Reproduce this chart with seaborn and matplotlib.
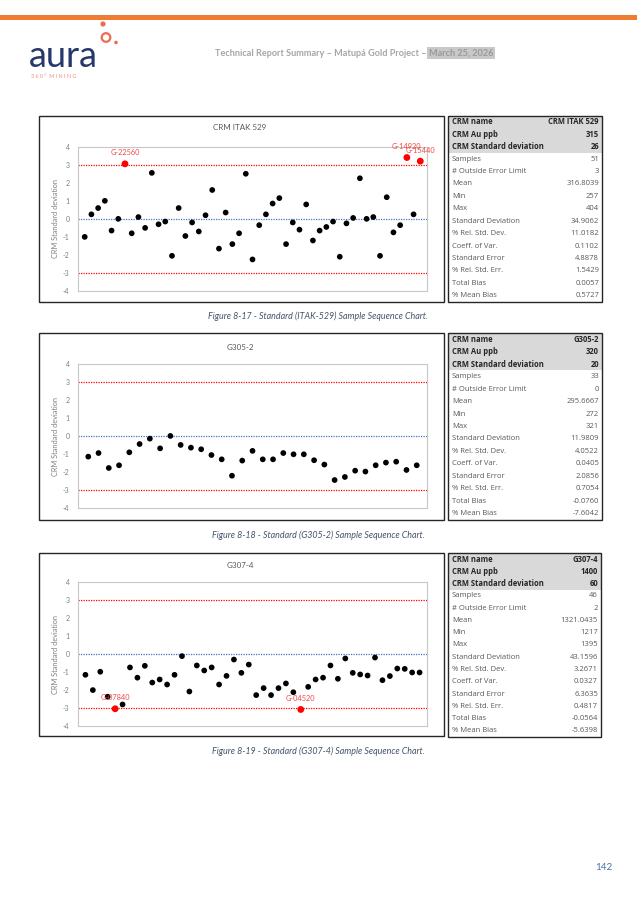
import numpy as np
import pandas as pd
import matplotlib
matplotlib.use("Agg")
import matplotlib.pyplot as plt
from matplotlib.patches import Rectangle, Circle
import seaborn as sns

sns.set_theme(style="white")
plt.rcParams["font.family"] = ["Lato", "DejaVu Sans"]
plt.rcParams["axes.unicode_minus"] = False

# --------------------------------------
# DATA (z-scores)
# --------------------------------------
itak_z = [-1.0, 0.25, 0.6, 1.0, -0.65, 0.0, 3.05, -0.8, 0.1, -0.5,
          2.55, -0.3, -0.15, -2.05, 0.6, -0.95, -0.2, -0.7, 0.2, 1.6,
          -1.65, 0.35, -1.4, -0.8, 2.5, -2.25, -0.35, 0.25, 0.85, 1.15,
          -1.4, -0.2, -0.6, 0.8, -1.2, -0.65, -0.45, -0.15, -2.1, -0.25,
          0.05, 2.25, 0.0, 0.1, -2.05, 1.2, -0.75, -0.35, 3.4, 0.25, 3.2]
itak_ids = ["G-22560", "G-14920", "G-15440"]

g305_z = [-1.13, -0.93, -1.76, -1.61, -0.89, -0.43, -0.13, -0.67, 0.02, -0.48,
          -0.63, -0.72, -1.04, -1.28, -2.19, -1.35, -0.81, -1.28, -1.28, -0.93,
          -1.0, -1.0, -1.33, -1.57, -2.43, -2.26, -1.91, -1.96, -1.61, -1.46,
          -1.41, -1.87, -1.61]
g305_ids = []

g307_z = [-1.15, -2.0, -0.98, -2.37, -3.04, -2.8, -0.74, -1.31, -0.65, -1.58,
          -1.41, -1.69, -1.15, -0.11, -2.08, -0.63, -0.91, -0.74, -1.69, -1.21,
          -0.3, -1.04, -0.58, -2.28, -1.89, -2.28, -1.89, -1.63, -2.12, -3.08,
          -1.82, -1.41, -1.31, -0.63, -1.37, -0.24, -1.04, -1.13, -1.19, -0.19,
          -1.45, -1.22, -0.8, -0.82, -1.02, -1.02]
g307_ids = ["G-07840", "G-04520"]

stat_names = ["CRM name", "CRM Au ppb", "CRM Standard deviation", "Samples",
              "# Outside Error Limit", "Mean", "Min", "Max", "Standard Deviation",
              "% Rel. Std. Dev.", "Coeff. of Var.", "Standard Error",
              "% Rel. Std. Err.", "Total Bias", "% Mean Bias"]
itak_stats = ["CRM ITAK 529", "315", "26", "51", "3", "316.8039", "257", "404",
              "34.9062", "11.0182", "0.1102", "4.8878", "1.5429", "0.0057", "0.5727"]
g305_stats = ["G305-2", "320", "20", "33", "0", "295.6667", "272", "321",
              "11.9809", "4.0522", "0.0405", "2.0856", "0.7054", "-0.0760", "-7.6042"]
g307_stats = ["G307-4", "1400", "60", "46", "2", "1321.0435", "1217", "1395",
              "43.1596", "3.2671", "0.0327", "6.3635", "0.4817", "-0.0564", "-5.6398"]

titles = ["CRM ITAK 529", "G305-2", "G307-4"]
captions = ["Figure 8-17 - Standard (ITAK-529) Sample Sequence Chart.",
            "Figure 8-18 - Standard (G305-2) Sample Sequence Chart.",
            "Figure 8-19 - Standard (G307-4) Sample Sequence Chart."]

# --------------------------------------
# PAGE LAYOUT (pixels, origin top-left)
# --------------------------------------
W, H = 637, 900
fig = plt.figure(figsize=(W / 100, H / 100), dpi=100)
fig.patch.set_facecolor("white")

bg = fig.add_axes([0, 0, 1, 1])
bg.set_xlim(0, W)
bg.set_ylim(H, 0)
bg.axis("off")


def px_axes(x0, y0, x1, y1):
    return fig.add_axes([x0 / W, 1 - y1 / H, (x1 - x0) / W, (y1 - y0) / H])


# header
bg.add_patch(Rectangle((0, 15), W, 5, fc="#ED7D31", ec="none"))
bg.text(29, 67, "aura", fontsize=26, fontweight="normal", color="#26386B", va="baseline")
coral = "#EE6A50"
bg.add_patch(Circle((103, 24), 2.6, fc=coral, ec="none"))
bg.add_patch(Circle((106, 37.5), 4.3, fc="none", ec=coral, lw=1.6))
bg.add_patch(Circle((116, 42.5), 1.8, fc=coral, ec="none"))
bg.text(31, 77, "3 6 0 °  M I N I N G", fontsize=3.9, color="#F08A78", va="center")

t1 = bg.text(215, 53, "Technical Report Summary – Matupá Gold Project – ",
             fontsize=6.6, fontweight="bold", color="#A6A6A6", va="center")
bg.annotate("March 25, 2026", xy=(1, 0.5), xycoords=t1, va="center", ha="left",
            fontsize=6.6, fontweight="bold", color="#9A9A9A",
            bbox=dict(boxstyle="square,pad=0.15", fc="#C8C8C8", ec="none"))

bg.text(604, 868, "142", fontsize=7, color="#4F6FA8", ha="center", va="center")

panels = [
    dict(z=itak_z, ids=itak_ids, stats=itak_stats,
         frame=(38.5, 115.5, 444, 302), plot=(78, 146.7, 427, 291),
         table=(448, 115.5, 602, 302), title_y=127, cap_y=316),
    dict(z=g305_z, ids=g305_ids, stats=g305_stats,
         frame=(38.5, 333, 444, 520), plot=(78, 364.3, 427, 508.3),
         table=(448, 333, 602, 520), title_y=347, cap_y=535),
    dict(z=g307_z, ids=g307_ids, stats=g307_stats,
         frame=(38.5, 553, 444, 736), plot=(78, 582.3, 427, 726),
         table=(448, 553, 601, 737), title_y=565, cap_y=751),
]

for k, p in enumerate(panels):
    fx0, fy0, fx1, fy1 = p["frame"]
    bg.add_patch(Rectangle((fx0, fy0), fx1 - fx0, fy1 - fy0, fc="white", ec="#262626", lw=1.0))
    bg.text(240, p["title_y"], titles[k], fontsize=5.8, color="#595959", ha="center", va="center")
    py0, py1 = p["plot"][1], p["plot"][3]
    bg.text(55, (py0 + py1) / 2, "CRM Standard deviation", rotation=90, fontsize=5.3,
            color="#7F7F7F", ha="center", va="center")
    bg.text(318, p["cap_y"], captions[k], fontsize=6.4, style="italic", color="#44546A",
            ha="center", va="center")

    # sequence chart
    ax = px_axes(*p["plot"])
    df = pd.DataFrame({"sample": np.arange(1, len(p["z"]) + 1), "z": p["z"]})
    df["out"] = df["z"].abs() > 3
    ax.axhline(3, color="#FF0000", lw=0.9, ls=(0, (1, 1)), zorder=1)
    ax.axhline(-3, color="#FF0000", lw=0.9, ls=(0, (1, 1)), zorder=1)
    ax.axhline(0, color="#4472C4", lw=0.9, ls=(0, (1, 1)), zorder=1)
    sns.scatterplot(data=df[~df["out"]], x="sample", y="z", color="black", s=17,
                    edgecolor="none", ax=ax, zorder=3)
    out = df[df["out"]]
    if len(out):
        sns.scatterplot(data=out, x="sample", y="z", color="#FF0000", s=24,
                        edgecolor="none", ax=ax, zorder=4)
    for (_, r), lab in zip(out.iterrows(), p["ids"]):
        ax.annotate(lab, (r["sample"], r["z"]), xytext=(0, 8), textcoords="offset points",
                    ha="center", va="center", fontsize=5.3, color="#F04848",
                    annotation_clip=False, zorder=5)
    ax.set_xlim(0, len(df) + 1)
    ax.set_ylim(-4, 4)
    ax.set_yticks(range(-4, 5))
    ax.set_xticks([])
    ax.set_xlabel("")
    ax.set_ylabel("")
    ax.tick_params(axis="y", length=0, pad=6, labelsize=5, labelcolor="#7F7F7F")
    for sp in ax.spines.values():
        sp.set_color("#C8C8C8")
        sp.set_linewidth(0.8)

    # statistics table
    tx0, ty0, tx1, ty1 = p["table"]
    rh = (ty1 - ty0) / len(stat_names)
    bg.add_patch(Rectangle((tx0, ty0), tx1 - tx0, 3 * rh, fc="#D9D9D9", ec="none"))
    bg.add_patch(Rectangle((tx0, ty0), tx1 - tx0, ty1 - ty0, fc="none", ec="#262626", lw=1.0))
    for i, (name, val) in enumerate(zip(stat_names, p["stats"])):
        yc = ty0 + (i + 0.5) * rh
        head = i < 3
        kw = dict(fontsize=5.5, family=["Open Sans", "DejaVu Sans"], va="center",
                  fontweight="bold" if head else "normal",
                  color="#262626" if head else "#595959")
        bg.text(tx0 + 4, yc, name, ha="left", **kw)
        bg.text(tx1 - 3, yc, val, ha="right", **kw)

fig.savefig("out.png", dpi=100, facecolor="white")
